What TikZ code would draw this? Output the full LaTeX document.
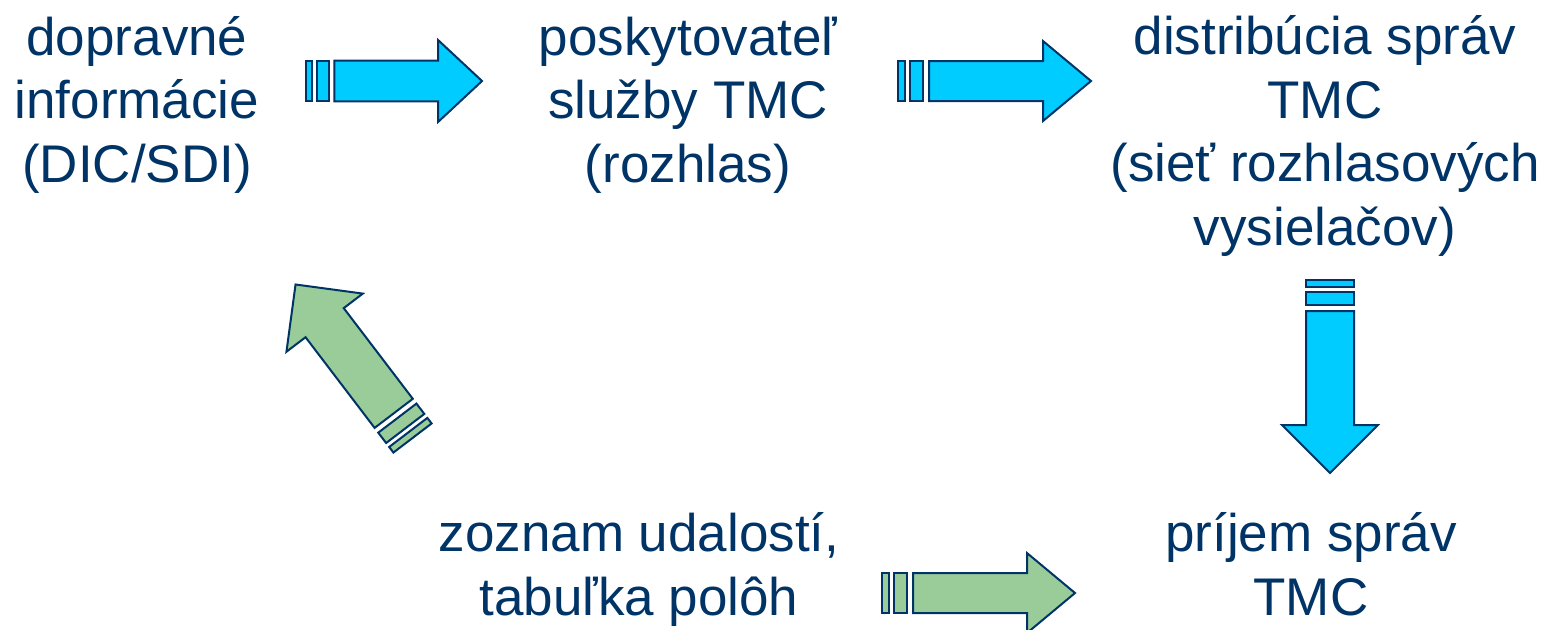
\documentclass[tikz,border=0pt]{standalone}
\usepackage{fontspec}
\setmainfont{Liberation Sans}
\definecolor{navy}{HTML}{003366}
\definecolor{cyanfill}{HTML}{00CCFF}
\definecolor{greenfill}{HTML}{99CC99}
\begin{document}
\begin{tikzpicture}[x=0.5pt,y=-0.5pt,
  lbl/.style={inner sep=0pt, anchor=base, align=center, text=navy,
    font=\fontsize{26.5}{31.7}\selectfont},
  bluearrow/.style={draw=navy, fill=cyanfill, line width=1pt, line join=miter},
  greenarrow/.style={draw=navy, fill=greenfill, line width=1pt, line join=miter},
  sarrow/.pic={
    \path[pic actions] (0,-24) rectangle (7,24);
    \path[pic actions] (12,-24) rectangle (25,24);
    \path[pic actions] (31,-24) -- (145,-24) -- (145,-48) -- (193,0)
      -- (145,48) -- (145,24) -- (31,24) -- cycle;
  }]
\useasboundingbox (0,0) rectangle (1543,629);

\node[lbl] (dic) at (137,182) {dopravné\\informácie\\(DIC/SDI)};
\node[lbl] (prov) at (688,182) {poskytovateľ\\služby TMC\\(rozhlas)};
\node[lbl] (dist) at (1325,245) {distribúcia správ\\TMC\\(sieť rozhlasových\\vysielačov)};
\node[lbl] (list) at (639,615) {zoznam udalostí,\\tabuľka polôh};
\node[lbl] (recv) at (1311,615) {príjem správ\\TMC};

\pic[bluearrow, xscale=0.912, yscale=0.85] at (306,81) {sarrow};
\pic[bluearrow, yscale=0.833] at (898,81) {sarrow};
\pic[bluearrow, rotate=-90] at (1330,280) {sarrow};
\pic[greenarrow, yscale=0.833] at (882,593) {sarrow};
\pic[greenarrow, rotate=127.3] at (412.5,438) {sarrow};
\end{tikzpicture}
\end{document}
